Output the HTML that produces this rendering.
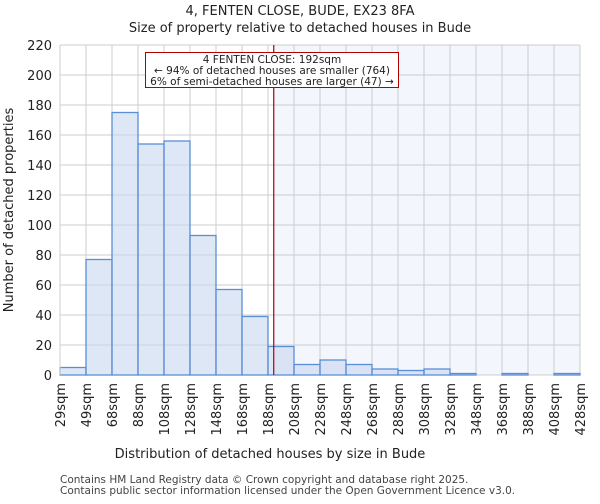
<!DOCTYPE html>
<html><head><meta charset="utf-8"><style>
body{margin:0;background:#fff;font-family:"DejaVu Sans","Liberation Sans",sans-serif;}
</style></head><body>
<svg width="600" height="500" xmlns="http://www.w3.org/2000/svg" font-family="DejaVu Sans, Liberation Sans, sans-serif">
<text x="300" y="15" text-anchor="middle" font-size="13" fill="#222">4, FENTEN CLOSE, BUDE, EX23 8FA</text>
<text x="300" y="32" text-anchor="middle" font-size="13" fill="#222">Size of property relative to detached houses in Bude</text>
<g id="plot"></g>
<text x="270" y="458" text-anchor="middle" font-size="13" fill="#222">Distribution of detached houses by size in Bude</text>
<text transform="translate(13,210) rotate(-90)" text-anchor="middle" font-size="13" fill="#222">Number of detached properties</text>
<text x="60" y="483" font-size="10.5" fill="#444">Contains HM Land Registry data © Crown copyright and database right 2025.</text>
<text x="60" y="494" font-size="10.5" fill="#444">Contains public sector information licensed under the Open Government Licence v3.0.</text>
</svg>
<script>
const binStarts=[29,49,68,88,108,128,148,168,188,208,228,248,268,288,308,328,348,368,388,408];
const counts=[5,77,175,154,156,93,57,39,19,7,10,7,4,3,4,1,0,1,0,1];
const xTickLabels=["29sqm","49sqm","68sqm","88sqm","108sqm","128sqm","148sqm","168sqm","188sqm","208sqm","228sqm","248sqm","268sqm","288sqm","308sqm","328sqm","348sqm","368sqm","388sqm","408sqm","428sqm"];
const yTicks=[0,20,40,60,80,100,120,140,160,180,200,220];
const subjectSize=192;
const L=60,R=580,T=45,B=375,N=binStarts.length;
const xb=i=>L+i*(R-L)/N;
const xv=v=>L+(v-28)*(R-L)/(427-28);
const y=v=>B-(v/220)*(B-T);
const ns="http://www.w3.org/2000/svg";
const g=document.getElementById('plot');
function mk(t,a,p){const e=document.createElementNS(ns,t);for(const k in a)e.setAttribute(k,a[k]);(p||g).appendChild(e);return e;}
const sx=xv(subjectSize);
let e=mk('rect',{x:sx,y:T,width:R-sx,height:B-T,fill:'#f3f6fd'});


yTicks.forEach(t=>{
 let l=mk('line',{x1:L,x2:R,y1:y(t),y2:y(t),stroke:'#cccccc','stroke-width':1});
 
 
 let tx=mk('text',{x:L-8,y:y(t)+5,'text-anchor':'end','font-size':13,fill:'#222'});
 tx.textContent=t;
 
 
});
xTickLabels.forEach((s,i)=>{
 let l=mk('line',{x1:xb(i),x2:xb(i),y1:T,y2:B,stroke:'#cccccc','stroke-width':1});
 
 
 let tx=mk('text',{transform:`translate(${xb(i)+5},${B+8}) rotate(-90)`,'text-anchor':'end','font-size':13,fill:'#222'});
 tx.textContent=s;
 
 
});
counts.forEach((c,i)=>{
 let r=mk('rect',{x:xb(i),y:y(c),width:xb(i+1)-xb(i),height:B-y(c),fill:'rgba(200,215,240,0.6)',stroke:'#5a8fd6','stroke-width':1.3});
 
 
});
e=mk('line',{x1:sx,x2:sx,y1:T,y2:B,stroke:'#b00000','stroke-width':1.2});


e=mk('rect',{x:145.5,y:52.5,width:253,height:35,fill:'#fff',stroke:'#b00000','stroke-width':1});


["4 FENTEN CLOSE: 192sqm","← 94% of detached houses are smaller (764)","6% of semi-detached houses are larger (47) →"].forEach((s,i)=>{
 let tx=mk('text',{x:272,y:63+i*11,'text-anchor':'middle','font-size':10.5,fill:'#222'});
 tx.textContent=s;
 
 
});
e=mk('line',{x1:L,x2:L,y1:T,y2:B,stroke:'#ccc'});


</script>
</body></html>
